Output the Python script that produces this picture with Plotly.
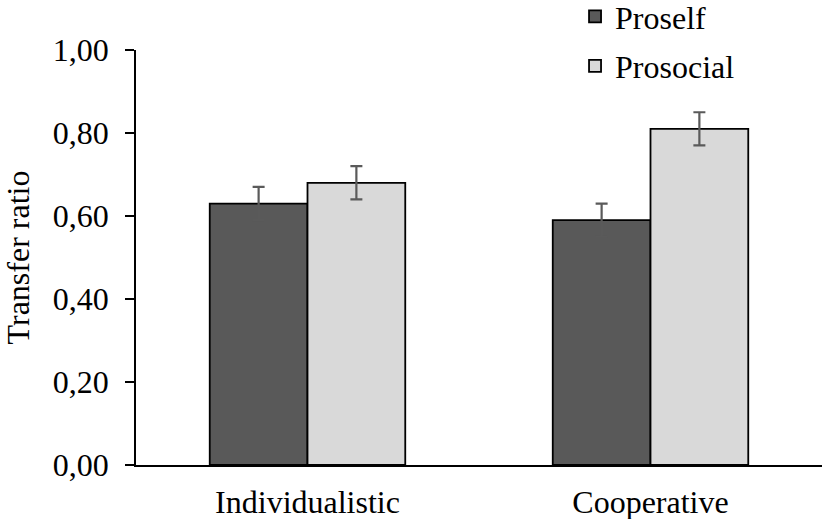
import plotly.graph_objects as go

categories = ["Individualistic", "Cooperative"]
proself = [0.63, 0.59]
prosocial = [0.68, 0.81]
proself_err = [0.04, 0.04]
prosocial_err = [0.04, 0.04]
tick_vals = [0, 0.2, 0.4, 0.6, 0.8, 1.0]
tick_text = ["0,00", "0,20", "0,40", "0,60", "0,80", "1,00"]

FONT = "Liberation Serif"
FS = 32
ERR = "#5a5a5a"

fig = go.Figure()
fig.add_trace(go.Bar(
    name="Proself", x=categories, y=proself, legendgroup="a",
    marker=dict(color="#595959", line=dict(color="#000000", width=1.8)),
    error_y=dict(type="data", array=proself_err, color=ERR, thickness=2.2, width=6),
))
fig.add_trace(go.Bar(
    name="Prosocial", x=categories, y=prosocial, legendgroup="b",
    marker=dict(color="#d9d9d9", line=dict(color="#000000", width=1.8)),
    error_y=dict(type="data", array=prosocial_err, color=ERR, thickness=2.2, width=6),
))

fig.update_layout(
    width=822, height=519,
    margin=dict(l=136, r=0, t=50, b=54, autoexpand=False),
    paper_bgcolor="white", plot_bgcolor="white",
    font=dict(family=FONT, size=FS, color="black"),
    barmode="group", bargap=0.43, bargroupgap=0,
    showlegend=True,
    legend=dict(x=0.640, y=1.147, xanchor="left", yanchor="top",
                bgcolor="rgba(0,0,0,0)", font=dict(size=FS, family=FONT),
                tracegroupgap=5, traceorder="grouped", itemwidth=30),
    xaxis=dict(showline=True, linecolor="black", linewidth=1.5, ticks="",
               tickfont=dict(size=FS, family=FONT), showgrid=False, automargin=False,
               ticklabelstandoff=8),
    yaxis=dict(range=[0, 1.0], tickvals=tick_vals, ticktext=tick_text,
               showline=True, linecolor="black", linewidth=1.5,
               ticks="outside", ticklen=9, tickcolor="black", tickwidth=1.5,
               ticklabelstandoff=10, automargin=False,
               showgrid=False, zeroline=False, tickfont=dict(size=FS, family=FONT),
               title=dict(text="Transfer ratio", font=dict(size=FS, family=FONT), standoff=47)),
)

fig.write_html("out.html", config={"displayModeBar": False},
               post_script="document.body.style.margin='0';")
